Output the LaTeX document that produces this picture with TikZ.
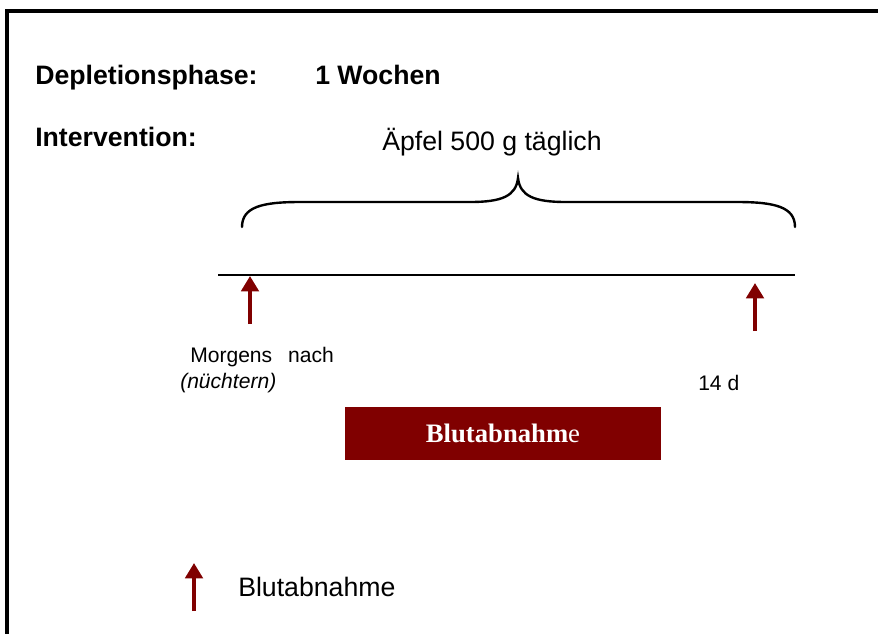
\documentclass[tikz,border=0pt]{standalone}
\usepackage{fontspec}
\setmainfont{Liberation Sans}
\newfontfamily\serifface{Liberation Serif}
\usetikzlibrary{arrows.meta}
\definecolor{blood}{HTML}{800000}
\tikzset{
  big/.style={anchor=base west, inner sep=0pt, font=\fontsize{20}{24}\selectfont},
  bigbold/.style={big, font=\fontsize{20}{24}\selectfont\bfseries},
  small/.style={anchor=base west, inner sep=0pt, font=\fontsize{15.8}{18}\selectfont},
  sample/.style={blood, line width=3pt, -{Triangle[width=13pt,length=11.5pt]}},
  bracket/.style={line width=1.8pt, line cap=round},
  frameline/.style={line width=2.4pt},
  panel/.style={fill=blood, draw=none, minimum width=237pt, minimum height=39.75pt,
    text=white, font=\serifface\fontsize{20}{24}\selectfont}
}
\begin{document}
\begin{tikzpicture}[x=0.75pt, y=-0.75pt]
  \useasboundingbox (0,0) rectangle (878,633);

  % open frame: left and top edges
  \coordinate (fbl) at (7,640);
  \coordinate (ftl) at (7,11);
  \coordinate (ftr) at (885,11);
  \draw[frameline] (fbl) -- (ftl) -- (ftr);

  % headings
  \node[bigbold] (dep) at (35,84) {Depletionsphase:};
  \node[bigbold] (wk) at (315,84) {1 Wochen};
  \node[bigbold] (int) at (35,146) {Intervention:};
  \node[big] (apf) at (382,150) {Äpfel 500 g täglich};

  % curly bracket over the intervention period
  \coordinate (bl) at (242,227);
  \coordinate (bc) at (518,178);
  \coordinate (br) at (795,227);
  \draw[bracket] (bl) .. controls (242,207) and (262,202) .. (300,202)
    -- (470,202) .. controls (502,202) and (516,196) .. (bc)
    .. controls (520,196) and (534,202) .. (566,202)
    -- (737,202) .. controls (775,202) and (795,207) .. (br);

  % time line
  \coordinate (ta) at (218,275);
  \coordinate (tb) at (795,275);
  \draw[line width=1.4pt] (ta) -- (tb);

  % sampling arrows
  \coordinate (s1a) at (250,324);
  \coordinate (s1b) at (250,276);
  \coordinate (s2a) at (755,331);
  \coordinate (s2b) at (755,283);
  \draw[sample] (s1a) -- (s1b);
  \draw[sample] (s2a) -- (s2b);

  % time point labels
  \node[small] (mo) at (190,362) {Morgens\hspace{12pt}nach};
  \node[small, font=\fontsize{15.8}{18}\selectfont\itshape] (nu) at (180,388) {(nüchtern)};
  \node[small] (d14) at (698,390) {14 d};

  % banner
  \node[panel] (ban) at (503,433.5) {\textbf{Blutabnahm}e};

  % legend
  \coordinate (la) at (194,611);
  \coordinate (lb) at (194,563);
  \draw[sample] (la) -- (lb);
  \node[big] (leg) at (238,596) {Blutabnahme};
\end{tikzpicture}
\end{document}
